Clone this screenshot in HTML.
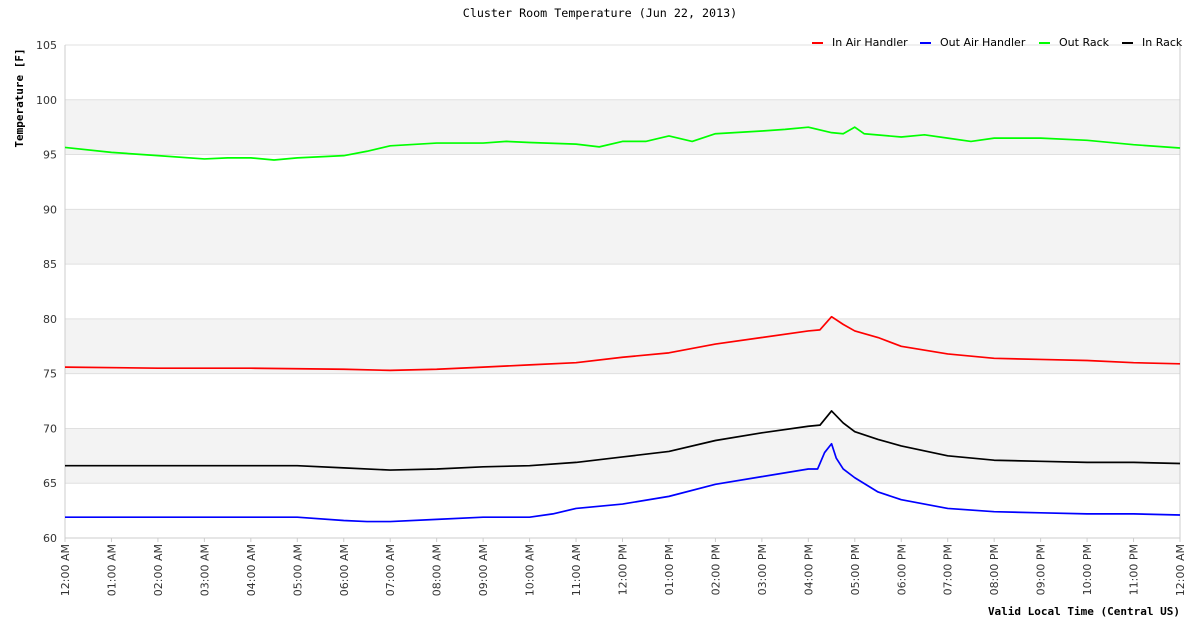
<!DOCTYPE html>
<html><head><meta charset="utf-8"><style>
body{margin:0;background:#fff;}
svg{display:block;font-family:"DejaVu Sans","Liberation Sans",sans-serif;}
.mono{font-family:"DejaVu Sans Mono","Liberation Mono",monospace;}
</style></head><body>
<svg id="c" width="1200" height="628"></svg>
<script>
const hoursGreen=[0,1,2,3,3.5,4,4.5,5,6,6.5,7,8,9,9.5,10,11,11.5,12,12.5,13,13.5,14,15,15.5,16,16.5,16.75,17,17.2,18,18.5,19,19.5,20,21,22,23,24];
const outRack=[95.65,95.2,94.9,94.6,94.7,94.7,94.5,94.7,94.9,95.3,95.8,96.05,96.05,96.2,96.1,95.95,95.7,96.2,96.2,96.7,96.2,96.9,97.15,97.3,97.5,97.0,96.9,97.5,96.9,96.6,96.8,96.5,96.2,96.5,96.5,96.3,95.9,95.6];
const hoursRed=[0,2,4,6,7,8,9,10,11,12,13,14,15,16,16.25,16.5,16.75,17,17.5,18,19,20,21,22,23,24];
const inAirHandler=[75.6,75.5,75.5,75.4,75.3,75.4,75.6,75.8,76.0,76.5,76.9,77.7,78.3,78.9,79.0,80.2,79.5,78.9,78.3,77.5,76.8,76.4,76.3,76.2,76.0,75.9];
const hoursBlack=[0,2,4,5,6,7,8,9,10,11,12,13,14,15,16,16.25,16.5,16.75,17,17.5,18,19,20,21,22,23,24];
const inRack=[66.6,66.6,66.6,66.6,66.4,66.2,66.3,66.5,66.6,66.9,67.4,67.9,68.9,69.6,70.2,70.3,71.6,70.5,69.7,69.0,68.4,67.5,67.1,67.0,66.9,66.9,66.8];
const hoursBlue=[0,2,4,5,6,6.5,7,8,9,10,10.5,11,12,13,14,15,16,16.2,16.35,16.5,16.6,16.75,17,17.5,18,19,20,21,22,23,24];
const outAirHandler=[61.9,61.9,61.9,61.9,61.6,61.5,61.5,61.7,61.9,61.9,62.2,62.7,63.1,63.8,64.9,65.6,66.3,66.3,67.8,68.6,67.3,66.3,65.5,64.2,63.5,62.7,62.4,62.3,62.2,62.2,62.1];
const yTicks=[60,65,70,75,80,85,90,95,100,105];
const xTickLabels=["12:00 AM","01:00 AM","02:00 AM","03:00 AM","04:00 AM","05:00 AM","06:00 AM","07:00 AM","08:00 AM","09:00 AM","10:00 AM","11:00 AM","12:00 PM","01:00 PM","02:00 PM","03:00 PM","04:00 PM","05:00 PM","06:00 PM","07:00 PM","08:00 PM","09:00 PM","10:00 PM","11:00 PM","12:00 AM"];

const L=65,R=1180,T=45,B=538;
const X=h=>L+(R-L)*h/24;
const Y=v=>B-(B-T)*(v-60)/45;
const svg=document.getElementById('c');
const NS='http://www.w3.org/2000/svg';
function mk(tag,attrs,parent){const e=document.createElementNS(NS,tag);for(const k in attrs)e.setAttribute(k,attrs[k]);(parent||svg).appendChild(e);return e;}

for(let i=0;i<yTicks.length-1;i++){
  if(yTicks[i]%10===5){
    const r=mk('rect',{x:L,y:Y(yTicks[i+1]),width:R-L,height:Y(yTicks[i])-Y(yTicks[i+1]),fill:'#f3f3f3'});
    
    
  }
}
yTicks.forEach(v=>{
  const g=mk('line',{x1:L,x2:R,y1:Y(v),y2:Y(v),stroke:'#e0e0e0','stroke-width':1});
  
  
  const t=mk('text',{x:L-8,y:Y(v)+4,'text-anchor':'end','font-size':11,fill:'#333'});
  t.textContent=v;
  
  
});
const ax=mk('path',{d:`M${L},${T}V${B}H${R}V${T}`,fill:'none',stroke:'#ccc'});


xTickLabels.forEach((s,i)=>{
  const x=X(i);
  const tk=mk('line',{x1:x,x2:x,y1:B,y2:B+4,stroke:'#ccc'});
  
  
  const t=mk('text',{x:x+4,y:B+6,'text-anchor':'end','font-size':11,fill:'#333',transform:`rotate(-90 ${x+4} ${B+6})`});
  t.textContent=s;
  
  
});
function series(xs,vs,color,name){
  const p=mk('polyline',{points:xs.map((h,i)=>X(h)+','+Y(vs[i])).join(' '),fill:'none',stroke:color,'stroke-width':1.7,'stroke-linejoin':'round'});
  
  
}
series(hoursGreen,outRack,'#00ff00','out-rack-line');
series(hoursRed,inAirHandler,'#ff0000','in-air-handler-line');
series(hoursBlack,inRack,'#000000','in-rack-line');
series(hoursBlue,outAirHandler,'#0000ff','out-air-handler-line');

const leg=[["In Air Handler","#ff0000",812],["Out Air Handler","#0000ff",920],["Out Rack","#00ff00",1039],["In Rack","#000000",1122]];
leg.forEach(([s,c,x])=>{
  const g=mk('g',{});
  
  
  mk('rect',{x:x,y:42,width:11,height:2,fill:c},g);
  const t=mk('text',{x:x+20,y:46,'font-size':11,fill:'#000'},g);
  t.textContent=s;
});
const ti=mk('text',{x:600,y:17,'text-anchor':'middle','font-size':11.7,fill:'#000',class:'mono'});
ti.textContent='Cluster Room Temperature (Jun 22, 2013)';


const yt=mk('text',{x:23,y:98,'text-anchor':'middle','font-size':11,'font-weight':'bold',fill:'#000',class:'mono',transform:'rotate(-90 23 98)'});
yt.textContent='Temperature [F]';


const xt=mk('text',{x:1180,y:615,'text-anchor':'end','font-size':11,'font-weight':'bold',fill:'#000',class:'mono'});
xt.textContent='Valid Local Time (Central US)';


</script>
</body></html>
